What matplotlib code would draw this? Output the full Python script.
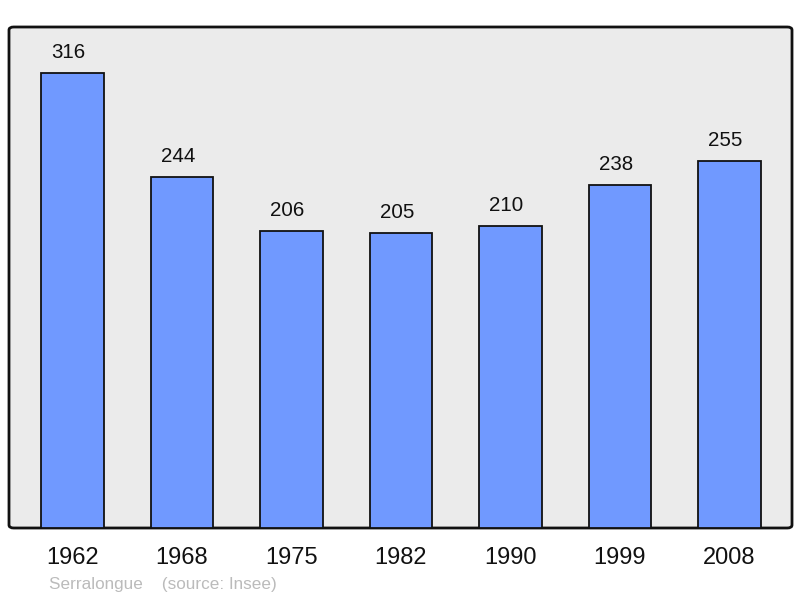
import matplotlib
matplotlib.use("Agg")
import matplotlib.pyplot as plt
from matplotlib.patches import FancyBboxPatch

years = ["1962", "1968", "1975", "1982", "1990", "1999", "2008"]
population = [316, 244, 206, 205, 210, 238, 255]

plt.rcParams['font.family'] = ['Liberation Sans', 'DejaVu Sans']

fig = plt.figure(figsize=(8, 5.98), dpi=100)
ax = fig.add_axes([9/800, 1 - 528/598, 783/800, 501/598])
ax.set_xlim(-0.58, 6.571)
ax.set_ylim(0, 348)
ax.set_facecolor("none")
for s in ax.spines.values():
    s.set_visible(False)

bg = FancyBboxPatch((0, 0), 1, 1, boxstyle="round,pad=0,rounding_size=0.006",
                    transform=ax.transAxes, facecolor="#ebebeb", edgecolor="#111111",
                    linewidth=2, zorder=0, clip_on=False)
ax.add_patch(bg)

x = list(range(len(years)))
bars = ax.bar(x, population, width=0.575, color="#7099ff", edgecolor="#111111",
              linewidth=1.3, zorder=2)
for xi, v in zip(x, population):
    ax.annotate(str(v), (xi, v), xytext=(-3, 14.8), textcoords="offset points",
                ha="center", va="center", fontsize=14.8, color="#111111")

ax.set_xticks(x)
ax.set_xticklabels(years, fontsize=17)
ax.tick_params(axis="x", length=0, pad=14, colors="#111111")
ax.set_yticks([])

fig.text(49/800, 1 - 584/598, "Serralongue    (source: Insee)", fontsize=12.3,
         color="#bbbbbb", ha="left", va="center")

fig.savefig("out.png", dpi=100)
